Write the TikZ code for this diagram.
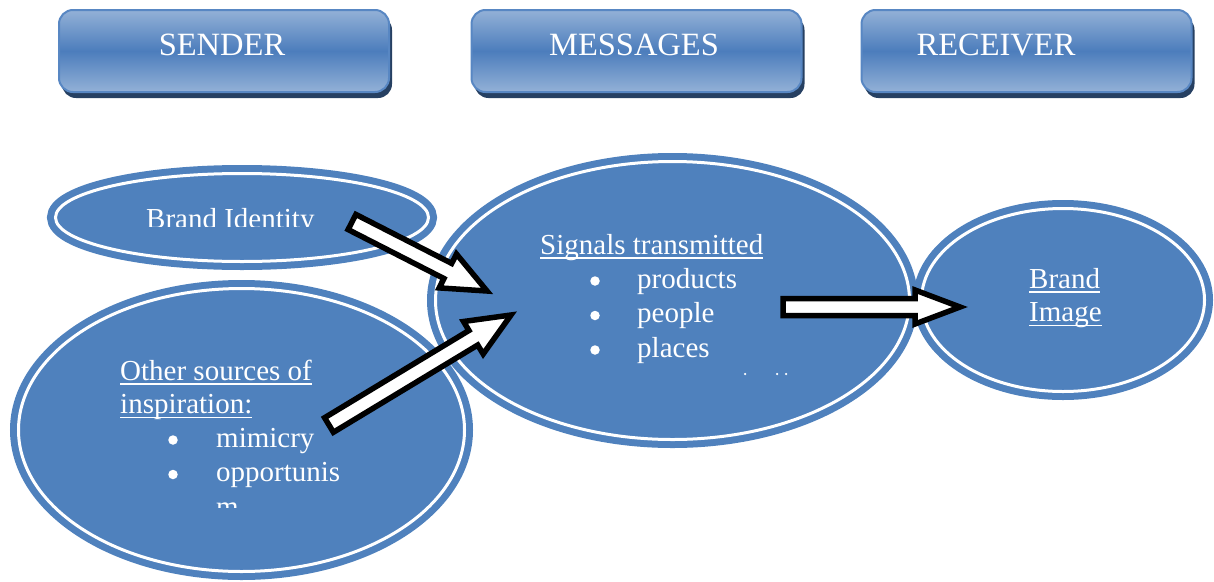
\documentclass[tikz,border=0pt]{standalone}
\usepackage{fontspec}
\setmainfont{Liberation Serif}
\usetikzlibrary{calc,shapes.geometric}
\definecolor{ob}{RGB}{79,129,189}
\definecolor{hlight}{RGB}{147,177,215}
\definecolor{hdark}{RGB}{76,125,188}
\definecolor{hshadow}{RGB}{38,64,98}
\definecolor{hborder}{RGB}{88,135,195}
\newlength{\ulwd}
\newcommand{\ulx}[1]{\settowidth{\ulwd}{#1}\rlap{\rule[-4.5pt]{\ulwd}{1.5pt}}#1}
\newcommand{\blockarrow}[5]{%
  \coordinate (hb) at ($(#2)!#5!(#1)$);
  \draw[barrow] ($(#1)!#3!90:(#2)$) -- ($(hb)!#3!90:(#2)$) -- ($(hb)!#4!90:(#2)$) -- (#2)
    -- ($(hb)!#4!-90:(#2)$) -- ($(hb)!#3!-90:(#2)$) -- ($(#1)!#3!-90:(#2)$) -- cycle;}
\tikzset{
  hdr/.style={rounded corners=14pt, draw=hborder, line width=2pt,
    top color=hlight, bottom color=hlight, middle color=hdark,
    minimum width=330pt, minimum height=82pt, inner sep=0pt,
    preaction={fill=hshadow, transform canvas={shift={(3pt,-6pt)}}}},
  htext/.style={text=white, font=\fontsize{32.5}{38}\selectfont, inner sep=0pt},
  ell/.style={ellipse, fill=ob, draw=ob, line width=7pt, double=white,
    double distance=3pt, inner sep=0pt},
  btext/.style={text=white, font=\fontsize{29}{34}\selectfont, inner sep=0pt, anchor=base west},
  bul/.style={circle, fill=white, minimum size=9.5pt, inner sep=0pt},
  barrow/.style={draw=black, fill=white, line width=5.5pt, line join=miter},
}
\begin{document}
\begin{tikzpicture}[x=1pt,y=-1pt]
\useasboundingbox (0,0) rectangle (1214,581);
% headers
\node[hdr] (sbox) at (224,51) {};
\node[hdr] (mbox) at (636.5,51) {};
\node[hdr] (rbox) at (1026.5,51) {};
\node[htext] (stxt) at (222,45) {SENDER};
\node[htext] (mtxt) at (634,45) {MESSAGES};
\node[htext] (rtxt) at (996,45) {RECEIVER};
% ellipses
\node[ell, minimum width=373pt, minimum height=88pt] (ident) at (242,217.5) {};
\node[ell, minimum width=446pt, minimum height=283pt] (other) at (241.5,430) {};
\node[ell, minimum width=474pt, minimum height=278pt] (signals) at (672.5,300.5) {};
\node[ell, minimum width=283pt, minimum height=183pt] (image) at (1063,300) {};
% texts: brand identity (clipped)
\begin{scope}
\clip (100,190) rectangle (400,226.5);
\node[btext] (identt) at (146,228) {Brand Identity};
\end{scope}
% signals
\node[btext] (sig1) at (540,254) {\ulx{Signals transmitted}};
\node[bul] (b1) at (595,281) {};
\node[bul] (b2) at (595,315.5) {};
\node[bul] (b3) at (595,350) {};
\node[btext] (sig2) at (637,288) {products};
\node[btext] (sig3) at (637,322.5) {people};
\node[btext] (sig4) at (637,357) {places};
\node[circle, fill=white, minimum size=2.5pt, inner sep=0pt] (d1) at (745,374) {};
\node[circle, fill=white, minimum size=2.5pt, inner sep=0pt] (d2) at (777,374) {};
\node[circle, fill=white, minimum size=2.5pt, inner sep=0pt] (d3) at (786,374) {};
% other sources
\node[btext] (oth1) at (120,380) {\ulx{Other sources of}};
\node[btext] (oth2) at (120,413.5) {\ulx{inspiration:}};
\node[bul] (b4) at (173,440) {};
\node[bul] (b5) at (173,474.5) {};
\node[btext] (oth3) at (216,447) {mimicry};
\node[btext] (oth4) at (216,481.5) {opportunis};
\begin{scope}
\clip (200,490) rectangle (300,507);
\node[btext] (oth5) at (216,516) {m};
\end{scope}
% brand image
\node[btext] (img1) at (1029,288) {\ulx{Brand}};
\node[btext] (img2) at (1029,321.5) {\ulx{Image}};
% arrows
\coordinate (a1s) at (352,222);
\coordinate (a1e) at (487,291);
\coordinate (a2s) at (329,425);
\coordinate (a2e) at (511,315);
\coordinate (a3s) at (783,307);
\coordinate (a3e) at (960,307);
\blockarrow{a1s}{a1e}{8.5pt}{19pt}{44pt}
\blockarrow{a2s}{a2e}{8.5pt}{19pt}{44pt}
\blockarrow{a3s}{a3e}{8.5pt}{17pt}{45pt}
\end{tikzpicture}
\end{document}
